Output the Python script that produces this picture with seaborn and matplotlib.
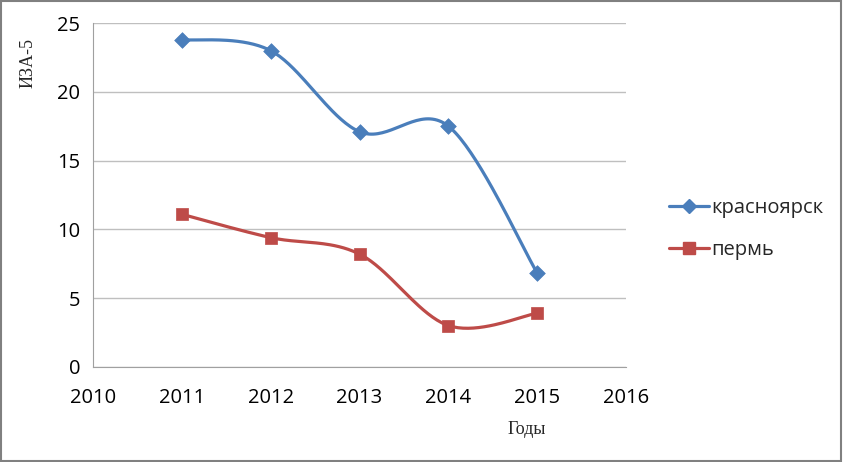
import numpy as np
import pandas as pd
import matplotlib
matplotlib.use("Agg")
import matplotlib.pyplot as plt
import seaborn as sns
from matplotlib.lines import Line2D
from matplotlib.patches import Rectangle

# data
years = [2011, 2012, 2013, 2014, 2015]
krasnoyarsk = [23.8, 23.0, 17.1, 17.5, 6.8]
perm = [11.1, 9.4, 8.2, 3.0, 3.9]
series_names = ["красноярск", "пермь"]
colors = ["#4A7EBB", "#BE4B48"]
markers = ["D", "s"]


def smooth(xs, ys, n=40):
    # Excel-like smoothed line: Bezier segments with Catmull-Rom control points
    xs = np.asarray(xs, float)
    ys = np.asarray(ys, float)
    px = np.concatenate([[xs[0]], xs, [xs[-1]]])
    py = np.concatenate([[ys[0]], ys, [ys[-1]]])
    outx, outy = [], []
    t = np.linspace(0, 1, n)
    for i in range(1, len(px) - 2):
        p0 = np.array([px[i], py[i]])
        p3 = np.array([px[i + 1], py[i + 1]])
        c1 = p0 + (np.array([px[i + 1], py[i + 1]]) - np.array([px[i - 1], py[i - 1]])) / 6
        c2 = p3 - (np.array([px[i + 2], py[i + 2]]) - np.array([px[i], py[i]])) / 6
        b = ((1 - t) ** 3)[:, None] * p0 + (3 * (1 - t) ** 2 * t)[:, None] * c1 \
            + (3 * (1 - t) * t ** 2)[:, None] * c2 + (t ** 3)[:, None] * p3
        outx.extend(b[:, 0])
        outy.extend(b[:, 1])
    return outx, outy


sns.set_style("white")
plt.rcParams['font.family'] = ['Open Sans', 'DejaVu Sans']

fig = plt.figure(figsize=(8.43, 4.62), dpi=100)
ax = fig.add_axes([0.110, 0.206, 0.633, 0.744])

handles = []
for name, vals, c, m, ms in zip(series_names, [krasnoyarsk, perm], colors, markers, [7, 8]):
    sx, sy = smooth(years, vals)
    curve = pd.DataFrame({"x": sx, "y": sy})
    sns.lineplot(data=curve, x="x", y="y", ax=ax, color=c, linewidth=2.3,
                 sort=False, estimator=None)
    pts = pd.DataFrame({"x": years, "y": vals})
    sns.scatterplot(data=pts, x="x", y="y", ax=ax, color=c, marker=m,
                    s=ms ** 2 * 1.3, edgecolor=c, linewidth=0.5, zorder=3)
    handles.append(Line2D([0], [0], color=c, linewidth=2.3, marker=m,
                          markersize=ms, label=name))

ax.set_xlim(2010, 2016)
ax.set_ylim(0, 25)
ax.set_xticks(range(2010, 2017))
ax.set_yticks(range(0, 26, 5))
ax.grid(axis="y", color="#BFBFBF", linewidth=1)
ax.set_axisbelow(True)
for side in ["top", "right"]:
    ax.spines[side].set_visible(False)
ax.spines["left"].set_color("#A0A0A0")
ax.spines["bottom"].set_color("#A0A0A0")
ax.tick_params(axis="both", direction="out", length=5, width=1,
               color="#A0A0A0", labelsize=14.5, colors="#A0A0A0",
               labelcolor="black")
ax.tick_params(axis="x", pad=10)
ax.tick_params(axis="y", pad=4)

ax.set_xlabel("")
ax.set_ylabel("")
fig.text(28 / 843, 1 - 63 / 462, "ИЗА-5", rotation=90, ha="center", va="center",
         family="Liberation Serif", fontsize=13)
fig.text(527 / 843, 1 - 430 / 462, "Годы", ha="center", va="center",
         family="Liberation Serif", fontsize=13)

ax.legend(handles=handles, loc="center left", bbox_to_anchor=(0.772, 0.505),
          bbox_transform=fig.transFigure, frameon=False, fontsize=14.5,
          labelspacing=1.1, handlelength=2.0, handletextpad=0.1)

fig.patches.append(Rectangle((0.001, 0.002), 0.997, 0.996, transform=fig.transFigure,
                             fill=False, edgecolor="#808080", linewidth=1.5))

fig.savefig("out.png", dpi=100)
